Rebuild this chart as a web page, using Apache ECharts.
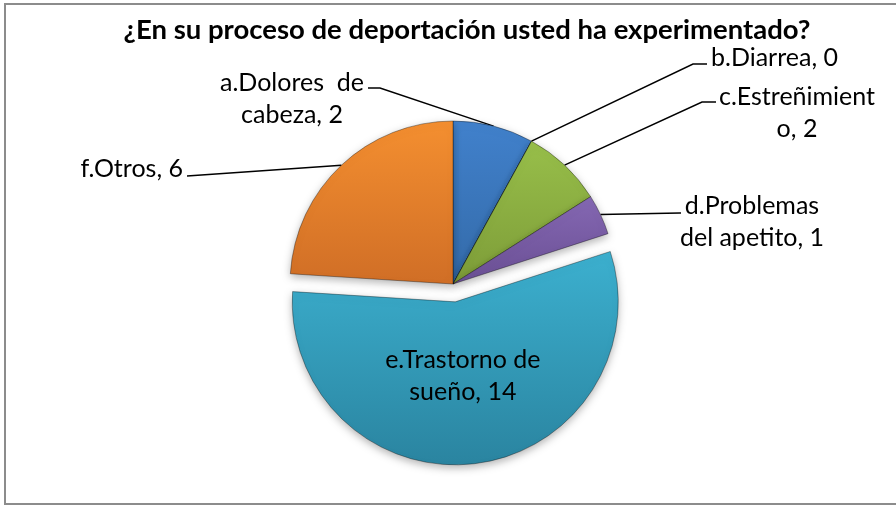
<!DOCTYPE html>
<html><head><meta charset="utf-8">
<script src="https://cdn.jsdelivr.net/npm/echarts@6/dist/echarts.min.js"></script>
<style>html,body{margin:0;padding:0;background:#fff}#c{width:896px;height:506px}</style>
</head><body><div id="c"></div>
<script>
const TITLE = '¿En su proceso de deportación usted ha experimentado?';
const categories = ['a.Dolores  de\ncabeza', 'b.Diarrea', 'c.Estreñimient\no', 'd.Problemas\ndel apetito', 'e.Trastorno de\nsueño', 'f.Otros'];
const values = [2, 0, 2, 1, 14, 6];
const explodedIndex = 4;

// styling / layout (not data)
const colorsTop = ['#4181cc', '#c0504d', '#98bf4a', '#8568b3', '#3cb0cf', '#f48f30'];
const colorsBottom = ['#336aa8', '#a03f3c', '#7d9c38', '#6a4f94', '#2a84a0', '#d06e26'];
const labelLayoutCfg = [
  {x: 292, y: 99, align: 'center', knee: [380, 88], end: [368, 88]},
  {x: 711, y: 58, align: 'left', knee: [693, 64], end: [707, 64]},
  {x: 797, y: 113, align: 'center', knee: [702, 102], end: [716, 102]},
  {x: 752, y: 222, align: 'center', knee: [680, 213], end: [681, 213]},
  {dx: -3, dy: -10},
  {x: 183, y: 169, align: 'right', knee: [187, 176], end: [187, 176]}
];
const FONT = 'Lato, "Open Sans", sans-serif';

const chart = echarts.init(document.getElementById('c'), null, {renderer: 'canvas'});
const data = categories.map((name, i) => ({
  name: name,
  value: values[i],
  selected: i === explodedIndex,
  itemStyle: {
    color: new echarts.graphic.LinearGradient(0, 0, 0, 1, [
      {offset: 0, color: colorsTop[i]}, {offset: 1, color: colorsBottom[i]}
    ])
  },
  label: i === explodedIndex ? {position: 'inside'} : {},
  labelLine: i === explodedIndex ? {show: false} : {}
}));

chart.setOption({
  animation: false,
  title: {
    text: TITLE, left: 462, top: 11, textAlign: 'center',
    textStyle: {fontFamily: FONT, fontWeight: 'bold', fontSize: 27.5, color: '#000'}
  },
  graphic: [{
    type: 'rect', silent: true, z: -1,
    shape: {x: 5, y: 4, width: 900, height: 500},
    style: {fill: 'none', stroke: '#8c8c8c', lineWidth: 2}
  }],
  series: [{
    type: 'pie',
    center: [453, 284],
    radius: 163,
    startAngle: 90,
    clockwise: true,
    selectedMode: 'single',
    selectedOffset: 18,
    avoidLabelOverlap: false,
    itemStyle: {
      borderColor: 'rgba(0,0,0,0.35)', borderWidth: 1,
      shadowBlur: 8, shadowOffsetY: 3, shadowColor: 'rgba(0,0,0,0.3)'
    },
    select: {itemStyle: {borderColor: 'rgba(0,0,0,0.35)', borderWidth: 1}},
    emphasis: {disabled: true},
    label: {
      show: true, formatter: '{b}, {c}', color: '#000',
      fontFamily: FONT, fontSize: 25, lineHeight: 32
    },
    labelLine: {show: true, lineStyle: {color: '#000', width: 1.5}},
    labelLayout: function (params) {
      const cfg = labelLayoutCfg[params.dataIndex];
      if (cfg.x == null) return {dx: cfg.dx, dy: cfg.dy};
      const out = {x: cfg.x, y: cfg.y, align: cfg.align, verticalAlign: 'middle'};
      if (cfg.knee && params.labelLinePoints) {
        out.labelLinePoints = [params.labelLinePoints[0], cfg.knee, cfg.end];
      }
      return out;
    },
    data: data
  }]
});
</script>
</body></html>
